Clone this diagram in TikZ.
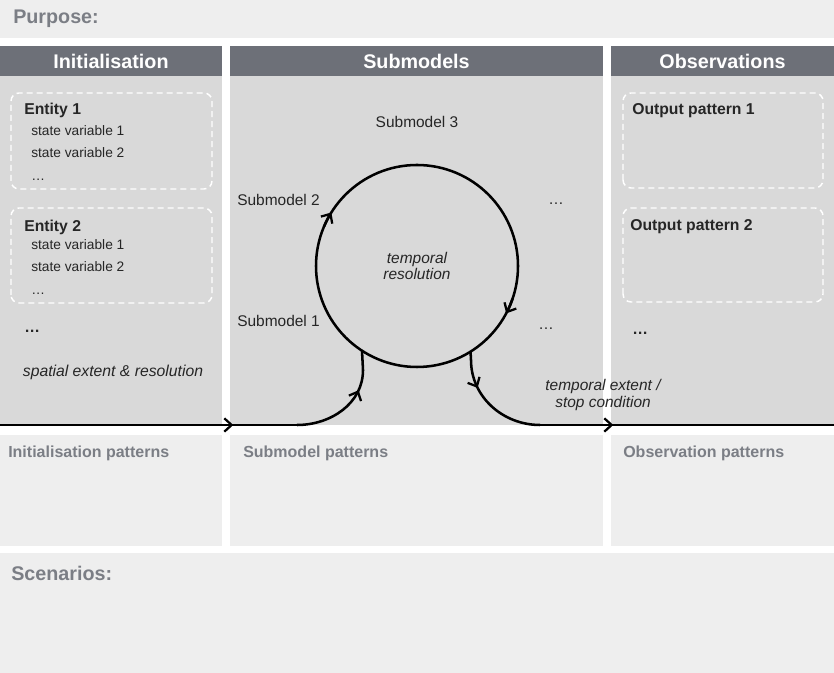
\documentclass[tikz,border=0pt]{standalone}
\usepackage{fontspec}
\setmainfont{Liberation Sans}
\usetikzlibrary{arrows.meta,decorations.markings}
\definecolor{headgrey}{HTML}{6D7078}
\definecolor{bodygrey}{HTML}{D9D9D9}
\definecolor{bandgrey}{HTML}{EEEEEE}
\definecolor{labelgrey}{HTML}{7B7E85}
\definecolor{inkgrey}{HTML}{262626}
\newcommand*\fsz[1]{\fontsize{#1}{#1}\selectfont}
\tikzset{
  barb/.tip={Straight Barb[length=5.5pt,width=10pt,line width=1.7pt]},
  flow/.style={line width=1.9pt, black},
  midtip/.style={postaction=decorate, decoration={markings,
      mark=at position #1 with {\arrow{barb}}}},
  dashbox/.style={draw=white, line width=1.1pt, dash pattern=on 4.5pt off 3pt, rounded corners=6pt},
  txt/.style={anchor=west, inner sep=0pt, text=inkgrey},
  header/.style={inner sep=0pt, text=white, font=\fsz{14.8}\bfseries},
  title/.style={anchor=west, inner sep=0pt, text=labelgrey, font=\fsz{14.8}\bfseries},
  pattern/.style={anchor=west, inner sep=0pt, text=labelgrey, font=\fsz{12}\bfseries}
}

\begin{document}
\begin{tikzpicture}[x=0.75pt,y=0.75pt]
\useasboundingbox (0,0) rectangle (834,673);
%-------->bands<--------------
\fill[bandgrey] (0,635) rectangle (834,673); % purpose
\fill[bandgrey] (0,0) rectangle (834,120); % scenarios
\fill[bandgrey] (0,127) rectangle (222,238); % patterns
\fill[bandgrey] (230,127) rectangle (603,238);
\fill[bandgrey] (611,127) rectangle (834,238);
%-------->columns<--------------
\fill[bodygrey] (0,248) rectangle (222,597);
\fill[bodygrey] (230,248) rectangle (603,597);
\fill[bodygrey] (611,248) rectangle (834,597);
\fill[headgrey] (0,597) rectangle (222,627);
\fill[headgrey] (230,597) rectangle (603,627);
\fill[headgrey] (611,597) rectangle (834,627);
%-------->dashed boxes<--------------
\draw[dashbox] (11,484) rectangle (212,580);
\draw[dashbox] (11,370) rectangle (212,465);
\draw[dashbox] (623,485) rectangle (823,580);
\draw[dashbox] (623,371) rectangle (823,465);
%-------->headers and titles<--------------
\node[title] (purpose) at (13,654) {Purpose:};
\node[title] (scen) at (11,100) {Scenarios:};
\node[header] (hinit) at (111,612) {Initialisation};
\node[header] (hsub) at (416.5,612) {Submodels};
\node[header] (hobs) at (722.5,612) {Observations};
\node[pattern] (pinit) at (8,220) {Initialisation patterns};
\node[pattern] (psub) at (243,220) {Submodel patterns};
\node[pattern] (pobs) at (623,220) {Observation patterns};
%-------->initialisation<--------------
\node[txt,font=\fsz{11.8}\bfseries] (ent1) at (24,563) {Entity 1};
\node[txt,font=\fsz{10.3}] (e1v1) at (31,542) {state variable 1};
\node[txt,font=\fsz{10.3}] (e1v2) at (31,520) {state variable 2};
\node[txt,font=\fsz{10.3}] (e1dots) at (31,493) {\dots};
\node[txt,font=\fsz{11.8}\bfseries] (ent2) at (24,446) {Entity 2};
\node[txt,font=\fsz{10.3}] (e2v1) at (31,428) {state variable 1};
\node[txt,font=\fsz{10.3}] (e2v2) at (31,406) {state variable 2};
\node[txt,font=\fsz{10.3}] (e2dots) at (31,379) {\dots};
\node[txt,font=\fsz{11.8}\bfseries] (entdots) at (24,342) {\dots};
\node[txt,anchor=center,font=\fsz{11.8}\itshape] (space) at (113,301) {spatial extent \& resolution};
%-------->submodels<--------------
\node[circle, draw, line width=1.9pt, minimum size=151.5pt, inner sep=0pt, outer sep=0pt,
      align=center, text=inkgrey, font=\fontsize{11.6}{12}\selectfont\itshape] (loop) at (417,407) {temporal\\resolution};
\node[txt,anchor=center,font=\fsz{11.6}] (sub3) at (417,551) {Submodel 3};
\node[txt,font=\fsz{11.6}] (sub2) at (237,473) {Submodel 2};
\node[txt,font=\fsz{11.6}] (sub1) at (237,352) {Submodel 1};
\node[txt,font=\fsz{11.6}] (subdotsa) at (548,469) {\dots};
\node[txt,font=\fsz{11.6}] (subdotsb) at (538,344) {\dots};
\node[txt,anchor=center,align=center,font=\fontsize{11.6}{12.5}\selectfont\itshape] (stop) at (603,278) {temporal extent /\\stop condition};
%-------->observations<--------------
\node[txt,font=\fsz{11.8}\bfseries] (out1) at (632,562) {Output pattern 1};
\node[txt,font=\fsz{11.8}\bfseries] (out2) at (630,446) {Output pattern 2};
\node[txt,font=\fsz{11.8}\bfseries] (outdots) at (632,340) {\dots};
%-------->flow line<--------------
\coordinate (in) at (0,248);
\coordinate (turnin) at (297,248);
\coordinate (turnout) at (540,248);
\coordinate (out) at (834,248);
\draw[flow, midtip=175pt] (in) -- (turnin);
\draw[flow, midtip=56pt] (turnin) to[out=0,in=-90] (363,303) -- (loop.237.6);
\draw[flow, midtip=28pt] (loop.302.4) -- (471,313) to[out=-90,in=180] (turnout);
\draw[flow, midtip=55pt] (turnout) -- (out);
%-------->loop arrows<--------------
\draw[flow, -barb] (loop.157) arc[start angle=157, end angle=148, radius=75.75pt];
\draw[flow, -barb] (loop.-19) arc[start angle=-19, end angle=-28, radius=75.75pt];
\end{tikzpicture}
\end{document}
